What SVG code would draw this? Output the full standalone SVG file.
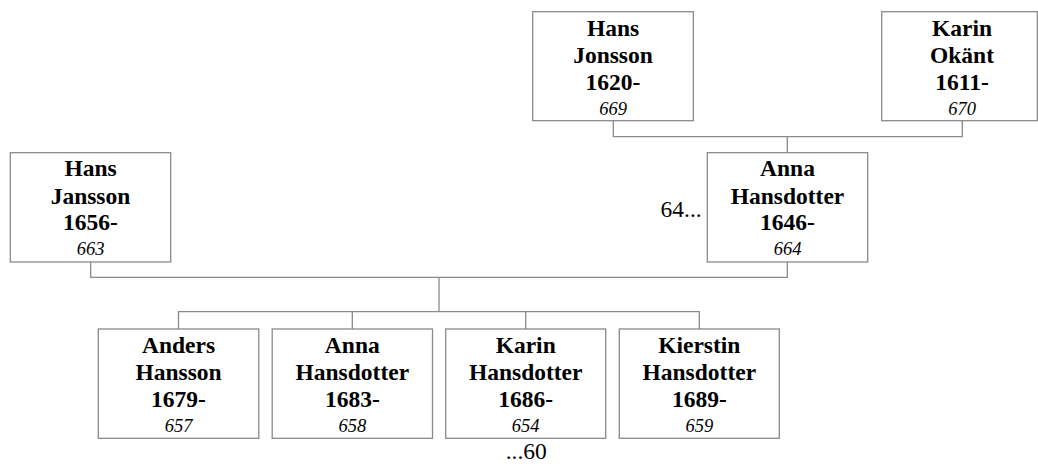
<svg xmlns="http://www.w3.org/2000/svg" width="1038" height="464" viewBox="0 0 1038 464">
<style>
.box{fill:#fff;stroke:#8a8a8a;stroke-width:1.3}
.ln{fill:none;stroke:#8a8a8a;stroke-width:1.3}
text{font-family:'Liberation Serif','DejaVu Serif','Times New Roman',Times,serif;fill:#000}
.b{font-weight:bold;font-size:23.5px;text-anchor:middle}
.i{font-style:italic;font-size:18.5px;text-anchor:middle}
.r{font-size:23.5px}
</style>
<rect width="1038" height="464" fill="#fff"/>
<g id="connectors">
<path class="ln" d="M613.3 121V136.7H962.3V121"/>
<path class="ln" d="M787.3 136.7V152.7"/>
<path class="ln" d="M90.7 262V277.3H787.3V262"/>
<path class="ln" d="M439 277.3V311.7"/>
<path class="ln" d="M178.5 329V311.7H699.3V329"/>
<path class="ln" d="M352.3 311.7V329"/>
<path class="ln" d="M525.7 311.7V329"/>
</g>
<g id="n669">
<rect class="box" x="532.7" y="11.7" width="160.6" height="109"/>
<text class="b" x="613" y="35.7">Hans</text>
<text class="b" x="613" y="63">Jonsson</text>
<text class="b" x="613" y="90">1620-</text>
<text class="i" x="613" y="115">669</text>
</g>
<g id="n670">
<rect class="box" x="881.7" y="11.7" width="155.6" height="109"/>
<text class="b" x="962" y="35.7">Karin</text>
<text class="b" x="962" y="63">Okänt</text>
<text class="b" x="962" y="90">1611-</text>
<text class="i" x="962" y="115">670</text>
</g>
<g id="n663">
<rect class="box" x="10.3" y="152.7" width="160.4" height="109.3"/>
<text class="b" x="90.5" y="176.3">Hans</text>
<text class="b" x="90.5" y="203.6">Jansson</text>
<text class="b" x="90.5" y="230.3">1656-</text>
<text class="i" x="90.5" y="255.3">663</text>
</g>
<g id="n664">
<rect class="box" x="707.3" y="152.7" width="160.4" height="109.3"/>
<text class="b" x="787.5" y="176.3">Anna</text>
<text class="b" x="787.5" y="203.6">Hansdotter</text>
<text class="b" x="787.5" y="230.3">1646-</text>
<text class="i" x="787.5" y="255.3">664</text>
<text class="r" x="701.7" y="216.5" text-anchor="end">64...</text>
</g>
<g id="n657">
<rect class="box" x="98.3" y="329" width="160.5" height="109.3"/>
<text class="b" x="178.5" y="352.7">Anders</text>
<text class="b" x="178.5" y="380">Hansson</text>
<text class="b" x="178.5" y="406.7">1679-</text>
<text class="i" x="178.5" y="432.2">657</text>
</g>
<g id="n658">
<rect class="box" x="272.2" y="329" width="160.3" height="109.3"/>
<text class="b" x="352.3" y="352.7">Anna</text>
<text class="b" x="352.3" y="380">Hansdotter</text>
<text class="b" x="352.3" y="406.7">1683-</text>
<text class="i" x="352.3" y="432.2">658</text>
</g>
<g id="n654">
<rect class="box" x="445.7" y="329" width="160" height="109.3"/>
<text class="b" x="525.7" y="352.7">Karin</text>
<text class="b" x="525.7" y="380">Hansdotter</text>
<text class="b" x="525.7" y="406.7">1686-</text>
<text class="i" x="525.7" y="432.2">654</text>
<text class="r" x="526.3" y="458.5" text-anchor="middle">...60</text>
</g>
<g id="n659">
<rect class="box" x="619.3" y="329" width="160" height="109.3"/>
<text class="b" x="699.3" y="352.7">Kierstin</text>
<text class="b" x="699.3" y="380">Hansdotter</text>
<text class="b" x="699.3" y="406.7">1689-</text>
<text class="i" x="699.3" y="432.2">659</text>
</g>
</svg>
